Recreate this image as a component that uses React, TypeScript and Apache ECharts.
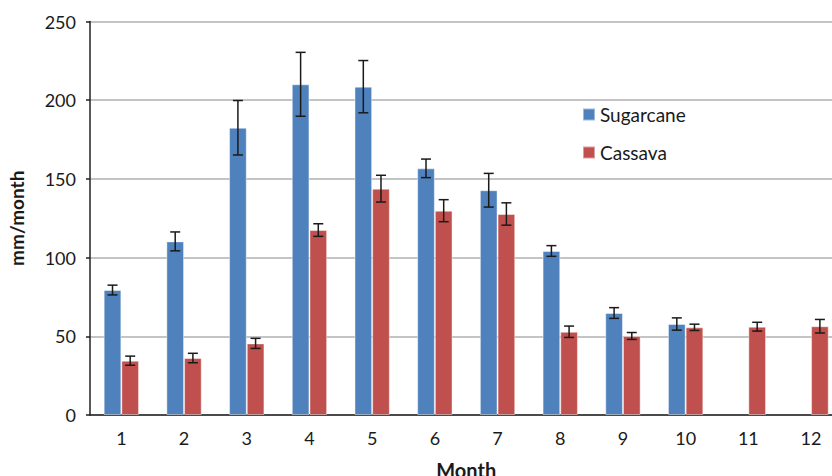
import React, { useEffect, useRef } from "react";
import * as echarts from "echarts";

const months = ["1", "2", "3", "4", "5", "6", "7", "8", "9", "10", "11", "12"];
const sugarcane: (number | null)[] = [79.4, 110.3, 182.5, 210.1, 208.6, 156.7, 142.8, 104.2, 64.8, 57.8, null, null];
const sugarcaneErr: (number | null)[] = [3.1, 6.0, 17.3, 20.3, 16.6, 5.9, 10.7, 3.4, 3.4, 3.9, null, null];
const cassava: number[] = [34.5, 36.2, 45.5, 117.5, 143.8, 129.8, 127.7, 52.9, 50.2, 55.7, 56.1, 56.4];
const cassavaErr: number[] = [2.9, 3.0, 3.2, 4.0, 8.5, 7.0, 7.1, 3.6, 2.2, 2.0, 2.8, 4.3];
const yTicks = { min: 0, max: 250, interval: 50 };

const FONT = "Lato";
const CAT_GAP = 0.436;

function errData(vals: (number | null)[], errs: (number | null)[]) {
  const out: any[] = [];
  vals.forEach((v, i) => {
    const e = errs[i];
    if (v != null && e != null) out.push([i, v - e, v + e]);
  });
  return out;
}

function makeErr(side: number) {
  return (params: any, api: any) => {
    const x = api.value(0);
    const lo = api.coord([x, api.value(1)]);
    const hi = api.coord([x, api.value(2)]);
    const catW = api.size([1, 0])[0];
    const barW = (catW * (1 - CAT_GAP)) / 2;
    const cx = lo[0] + (side * barW) / 2;
    const cap = 5;
    const style = { stroke: "#1a1a1a", lineWidth: 1.5 };
    return {
      type: "group",
      children: [
        { type: "line", shape: { x1: cx, y1: lo[1], x2: cx, y2: hi[1] }, style },
        { type: "line", shape: { x1: cx - cap, y1: lo[1], x2: cx + cap, y2: lo[1] }, style },
        { type: "line", shape: { x1: cx - cap, y1: hi[1], x2: cx + cap, y2: hi[1] }, style },
      ],
    };
  };
}

export default function App() {
  const ref = useRef<HTMLDivElement>(null);
  useEffect(() => {
    if (!ref.current) return;
    const chart = echarts.init(ref.current, null, { renderer: "svg" });
    chart.setOption({
      animation: false,
      textStyle: { fontFamily: FONT },
      grid: {
        left: 90,
        top: 21.5,
        bottom: 61,
        right: -10.4,
        containLabel: false,
        outerBoundsMode: "none",
      },
      legend: {
        data: ["Sugarcane", "Cassava"],
        orient: "vertical",
        left: 582,
        top: 105,
        padding: 0,
        itemWidth: 12,
        itemHeight: 12,
        itemGap: 19,
        icon: "rect",
        textStyle: { fontFamily: FONT, fontSize: 19, color: "#1a1a1a" },
      },
      xAxis: {
        type: "category",
        data: months,
        name: "Month",
        nameLocation: "middle",
        nameGap: 45,
        nameTextStyle: { fontFamily: FONT, fontSize: 20, fontWeight: "bold", color: "#1a1a1a" },
        axisLine: { lineStyle: { color: "#222", width: 1.5 } },
        axisTick: { length: 6, lineStyle: { color: "#222", width: 1.5 } },
        axisLabel: { fontFamily: FONT, fontSize: 18, color: "#1a1a1a", margin: 14 },
        splitLine: { show: false },
      },
      yAxis: {
        type: "value",
        min: yTicks.min,
        max: yTicks.max,
        interval: yTicks.interval,
        name: "mm/month",
        nameLocation: "middle",
        nameGap: 64,
        nameRotate: 90,
        nameTextStyle: { fontFamily: FONT, fontSize: 19, fontWeight: "bold", color: "#1a1a1a" },
        axisLine: { show: true, lineStyle: { color: "#222", width: 1.5 } },
        axisTick: { show: true, length: 4, lineStyle: { color: "#222", width: 1.5 } },
        axisLabel: { fontFamily: FONT, fontSize: 18, color: "#1a1a1a", margin: 14 },
        splitLine: { lineStyle: { color: "#b0b0b0", width: 1.5 } },
      },
      series: [
        {
          name: "Sugarcane",
          type: "bar",
          data: sugarcane,
          barGap: "0%",
          barCategoryGap: CAT_GAP * 100 + "%",
          itemStyle: { color: "#4F81BD", borderColor: "rgba(255,255,255,0.45)", borderWidth: 1 },
        },
        {
          name: "Cassava",
          type: "bar",
          data: cassava,
          barGap: "0%",
          barCategoryGap: CAT_GAP * 100 + "%",
          itemStyle: { color: "#C0504D", borderColor: "rgba(255,255,255,0.45)", borderWidth: 1 },
        },
        {
          name: "SugarcaneErr",
          type: "custom",
          data: errData(sugarcane, sugarcaneErr),
          renderItem: makeErr(-1),
          z: 10,
          silent: true,
        },
        {
          name: "CassavaErr",
          type: "custom",
          data: errData(cassava, cassavaErr),
          renderItem: makeErr(1),
          z: 10,
          silent: true,
        },
      ],
    });
    return () => chart.dispose();
  }, []);
  return (
    <div
      ref={ref}
      style={{ position: "fixed", left: 0, top: 0, width: 832, height: 476, background: "#fff" }}
    />
  );
}
